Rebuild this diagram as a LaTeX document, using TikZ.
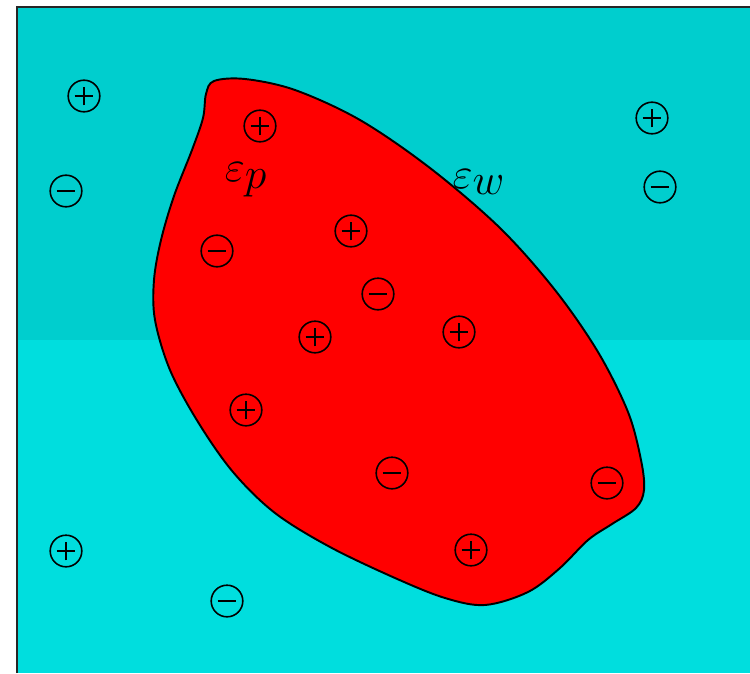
\documentclass[tikz,border=0pt]{standalone}
\usetikzlibrary{calc}

\definecolor{waterdark}{RGB}{0,206,206}
\definecolor{waterlight}{RGB}{0,222,222}
\definecolor{protein}{RGB}{255,0,0}

\tikzset{
  charge/.style={circle, draw=black, line width=0.9pt, minimum size=18pt, inner sep=0pt},
  poscharge/.style={charge, path picture={
      \draw[line width=0.8pt] ($(path picture bounding box.west)!0.2!(path picture bounding box.east)$) -- ($(path picture bounding box.west)!0.8!(path picture bounding box.east)$);
      \draw[line width=0.8pt] ($(path picture bounding box.south)!0.2!(path picture bounding box.north)$) -- ($(path picture bounding box.south)!0.8!(path picture bounding box.north)$);}},
  negcharge/.style={charge, path picture={
      \draw[line width=0.8pt] ($(path picture bounding box.west)!0.2!(path picture bounding box.east)$) -- ($(path picture bounding box.west)!0.8!(path picture bounding box.east)$);}},
  eps/.style={font=\fontsize{34}{40}\selectfont}
}

\begin{document}
\begin{tikzpicture}[x=0.02cm, y=-0.02cm]
  \useasboundingbox (0,0) rectangle (750,673);

  % Solvent (two shades)
  \fill[waterdark] (17,7) rectangle (750,340);
  \fill[waterlight] (17,340) rectangle (750,673);
  \draw[line width=1.2pt, black!85] (17,673) -- (17,7) -- (750,7);

  % Protein region
  \draw[fill=protein, line width=1.1pt] plot[smooth cycle, tension=0.55] coordinates {
    (214,81) (245,79) (295,90) (360,120) (430,168) (500,228) (555,290)
    (598,352) (628,412) (641,460) (644,490) (636,508) (612,524) (588,540)
    (560,568) (528,592) (485,605) (445,598) (395,578) (330,547) (275,513)
    (233,472) (198,422) (170,370) (155,320) (154,280) (161,240) (174,196)
    (192,150) (203,118) (206,94)};

  % Dielectric labels
  \node[eps] (epsp) at (246,180) {$\varepsilon_p$};
  \node[eps] (epsw) at (479,182) {$\varepsilon_w$};

  % Charges outside
  \node[poscharge] (w1) at (84,96) {};
  \node[negcharge] (w2) at (66,191) {};
  \node[poscharge] (w3) at (652,118) {};
  \node[negcharge] (w4) at (660,187) {};
  \node[poscharge] (w5) at (66,551) {};
  \node[negcharge] (w6) at (227,601) {};

  % Charges inside
  \node[poscharge] (p1) at (260,126) {};
  \node[negcharge] (p2) at (217,251) {};
  \node[poscharge] (p3) at (351,231) {};
  \node[negcharge] (p4) at (378,294) {};
  \node[poscharge] (p5) at (315,337) {};
  \node[poscharge] (p6) at (459,332) {};
  \node[poscharge] (p7) at (246,410) {};
  \node[negcharge] (p8) at (392,473) {};
  \node[negcharge] (p9) at (607,483) {};
  \node[poscharge] (p10) at (471,550) {};
\end{tikzpicture}
\end{document}
